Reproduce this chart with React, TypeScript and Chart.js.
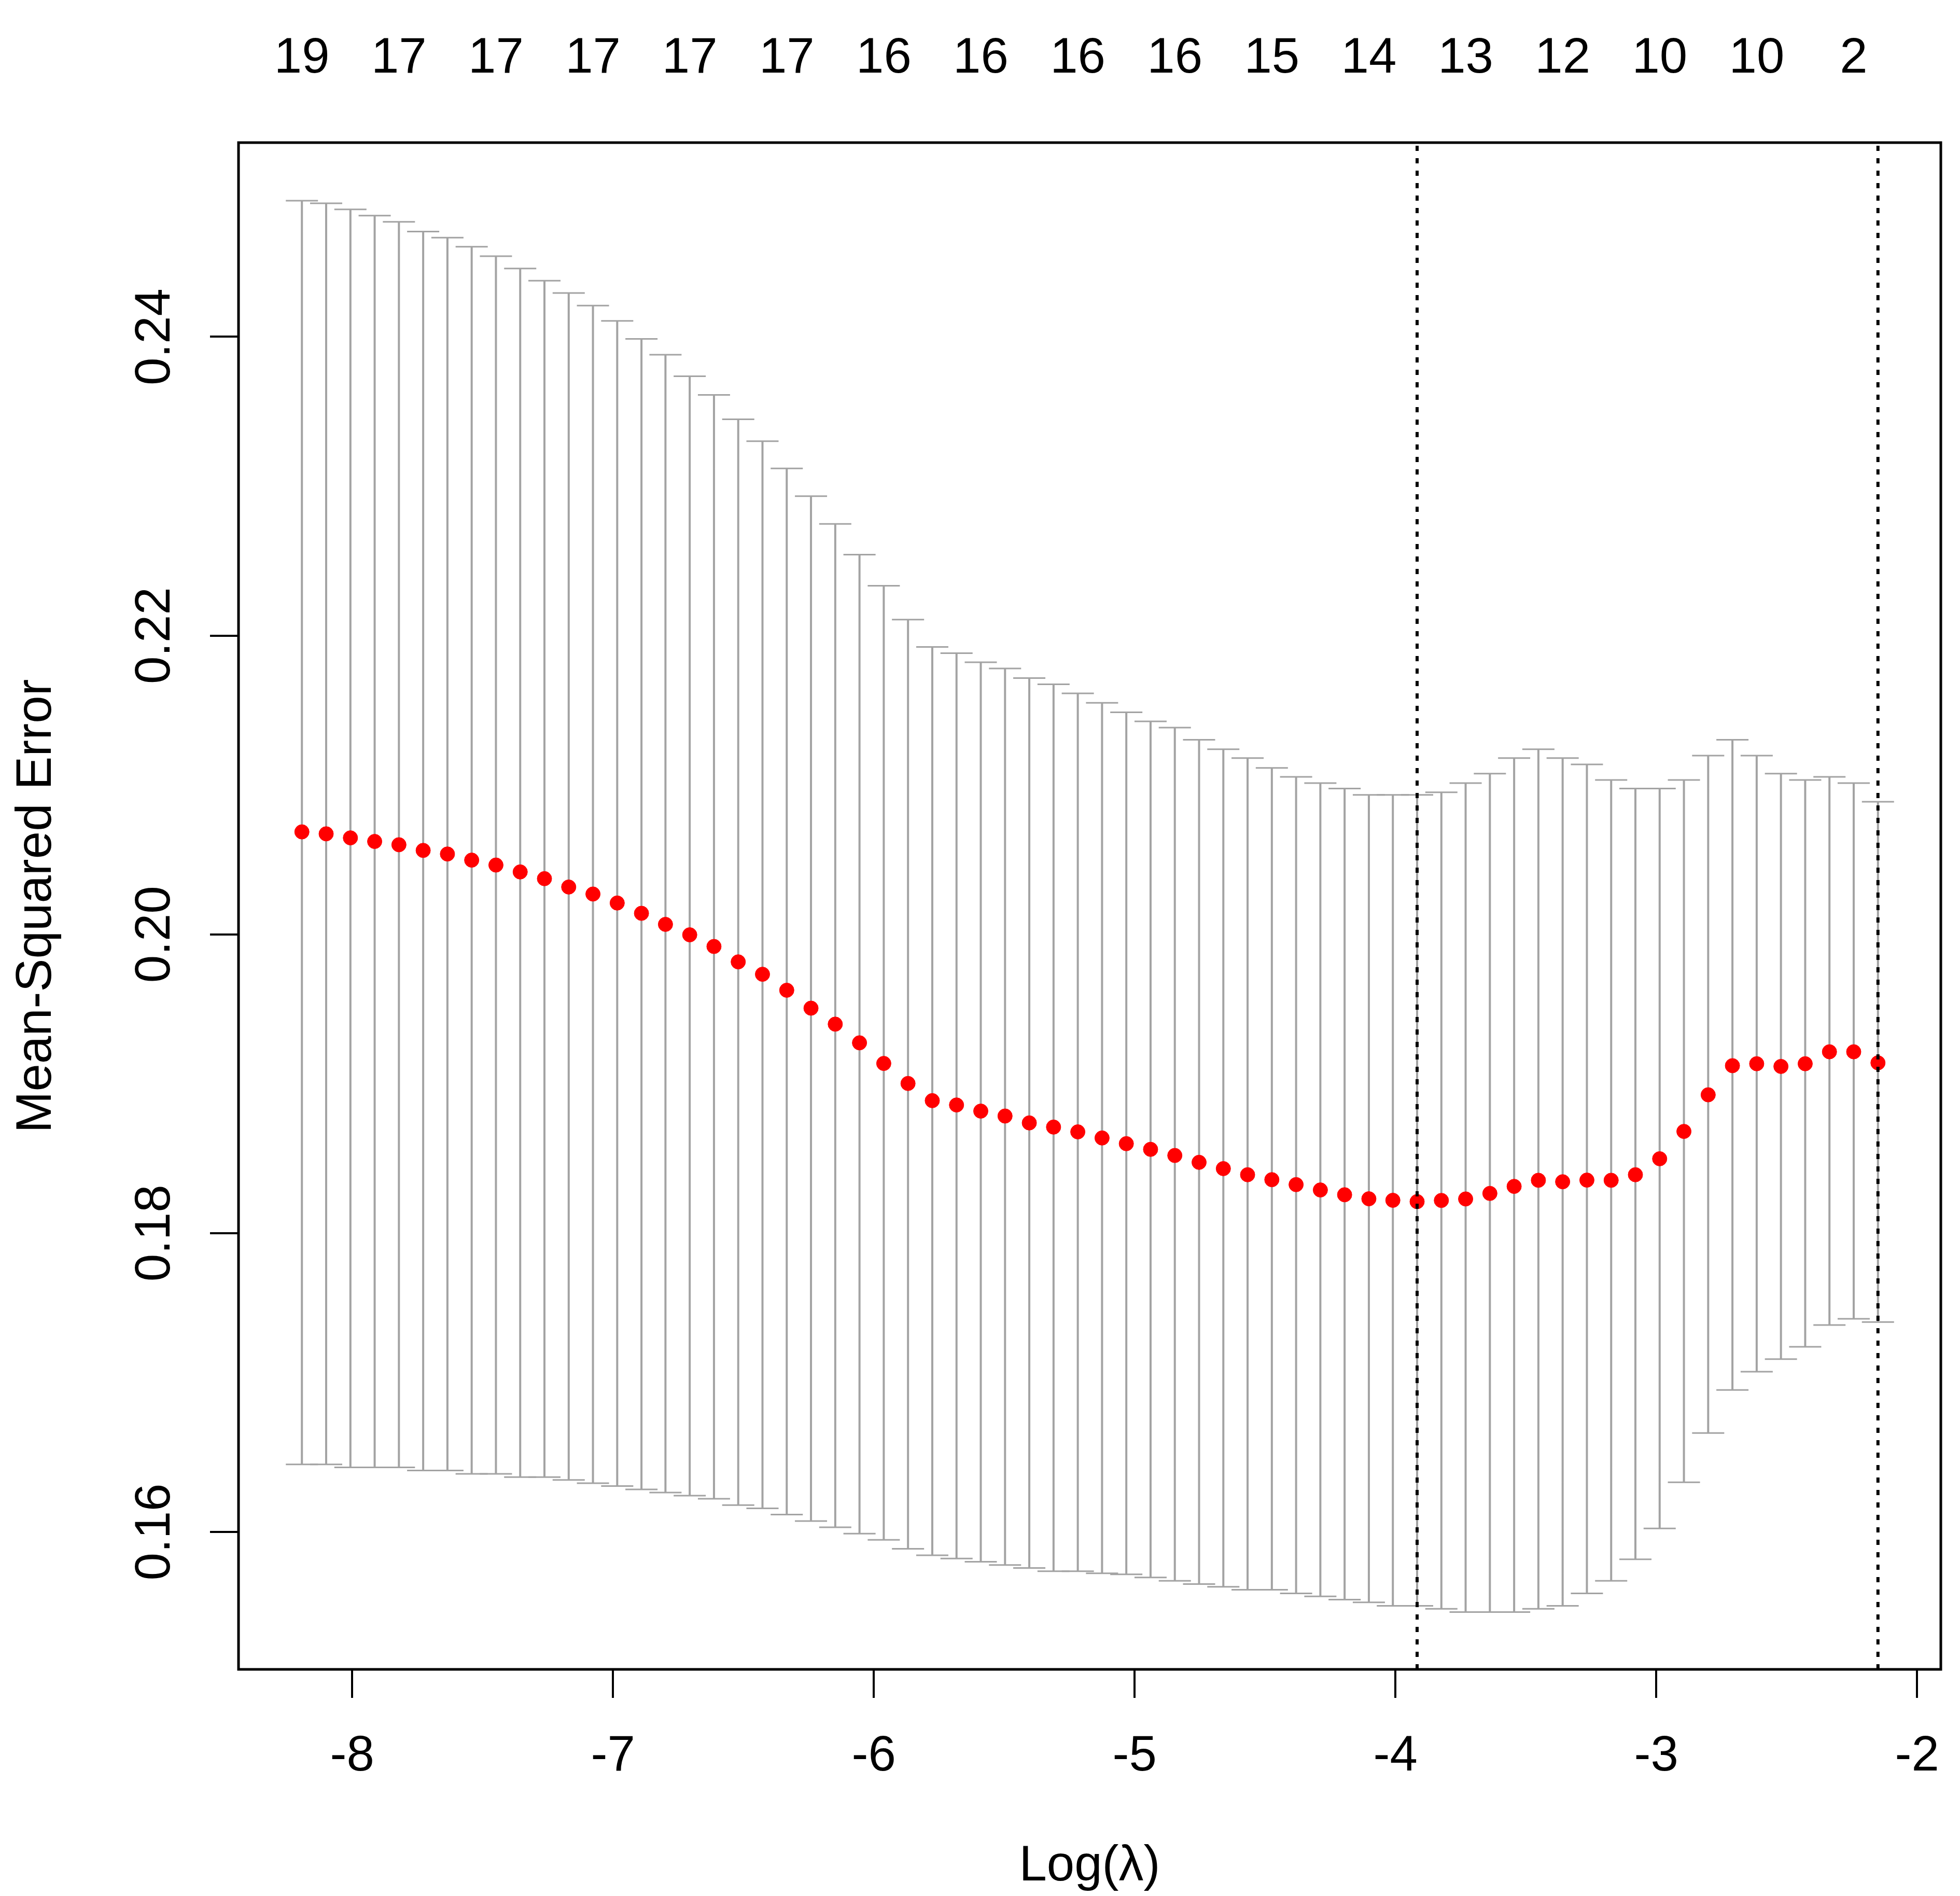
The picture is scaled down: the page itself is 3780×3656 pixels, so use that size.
import { useEffect, useRef } from 'react';
import { Chart, registerables } from 'chart.js';

Chart.register(...registerables);

// page / plot region (R plot box) in canvas pixels
const W = 3780;
const H = 3656;
const PLOT_LEFT = 460;
const PLOT_RIGHT = 3743;
const PLOT_TOP = 275;
const PLOT_BOTTOM = 3219;

const X_MIN = -8.436;
const X_MAX = -1.909;
const Y_MIN = 0.1508;
const Y_MAX = 0.253;

// log(lambda) path of the cross-validated fit
const logLambda = [
  -8.193, -8.1, -8.007, -7.914, -7.821, -7.728, -7.635, -7.542, -7.449, -7.356,
  -7.263, -7.17, -7.077, -6.984, -6.891, -6.799, -6.706, -6.613, -6.52, -6.427,
  -6.334, -6.241, -6.148, -6.055, -5.962, -5.869, -5.776, -5.683, -5.59, -5.497,
  -5.404, -5.311, -5.218, -5.125, -5.032, -4.939, -4.846, -4.753, -4.66, -4.567,
  -4.474, -4.381, -4.288, -4.195, -4.102, -4.01, -3.917, -3.824, -3.731, -3.638,
  -3.545, -3.452, -3.359, -3.266, -3.173, -3.08, -2.987, -2.894, -2.801, -2.708,
  -2.615, -2.522, -2.429, -2.336, -2.243, -2.15,
];

// mean cross-validated error
const cvm = [
  0.20686, 0.20673, 0.20646, 0.20622, 0.206, 0.20562, 0.20538, 0.20497, 0.20464, 0.20418,
  0.20373, 0.20317, 0.2027, 0.2021, 0.20141, 0.20067, 0.19997, 0.19919, 0.19816, 0.19733,
  0.19626, 0.19506, 0.19399, 0.19274, 0.19136, 0.19002, 0.18887, 0.18858, 0.18817, 0.18784,
  0.18738, 0.1871, 0.18678, 0.18637, 0.18599, 0.18561, 0.1852, 0.18474, 0.18432, 0.18391,
  0.18358, 0.18325, 0.18289, 0.18257, 0.1823, 0.1822, 0.18211, 0.18219, 0.18229, 0.18266,
  0.18313, 0.18354, 0.18344, 0.18355, 0.18354, 0.18391, 0.18498, 0.18681, 0.18926, 0.19121,
  0.19134, 0.19116, 0.19134, 0.19214, 0.19214, 0.1914,
];

// upper error bar ends
const cvup = [
  0.24911, 0.24894, 0.24853, 0.24811, 0.2477, 0.24705, 0.24664, 0.24603, 0.2454, 0.24457,
  0.24376, 0.24293, 0.24209, 0.24107, 0.23986, 0.2388, 0.23736, 0.23611, 0.23448, 0.23301,
  0.23119, 0.22933, 0.22748, 0.22542, 0.22334, 0.22107, 0.21924, 0.21882, 0.21822, 0.2178,
  0.21716, 0.21674, 0.21613, 0.2155, 0.21487, 0.21426, 0.21384, 0.21303, 0.21239, 0.2118,
  0.21114, 0.21054, 0.21013, 0.20976, 0.20934, 0.20934, 0.20934, 0.20951, 0.21013, 0.21076,
  0.2118, 0.21239, 0.2118, 0.21138, 0.21034, 0.20976, 0.20976, 0.21034, 0.21197, 0.21303,
  0.21197, 0.21076, 0.21034, 0.21054, 0.21013, 0.20888,
];

// lower error bar ends
const cvlo = [
  0.16452, 0.16452, 0.16432, 0.16432, 0.16432, 0.16411, 0.16411, 0.16389, 0.16389, 0.16367,
  0.16367, 0.16348, 0.16326, 0.16307, 0.16285, 0.16264, 0.16243, 0.16222, 0.1618, 0.16158,
  0.16116, 0.16073, 0.16031, 0.15989, 0.15947, 0.15887, 0.15844, 0.15822, 0.158, 0.15779,
  0.15759, 0.15737, 0.15737, 0.15723, 0.15716, 0.15695, 0.15673, 0.15651, 0.15633, 0.15613,
  0.15613, 0.15589, 0.15569, 0.15547, 0.15529, 0.15505, 0.15505, 0.15485, 0.15464, 0.15464,
  0.15464, 0.15485, 0.15505, 0.15589, 0.15673, 0.15817, 0.16023, 0.16332, 0.16662, 0.1695,
  0.17073, 0.17157, 0.17239, 0.17385, 0.17427, 0.17405,
];

// number of non-zero coefficients shown on the top axis (every 4th lambda)
const nzShown = ['19', '17', '17', '17', '17', '17', '16', '16', '16', '16', '15', '14', '13', '12', '10', '10', '2'];
const NZ_STEP = 4;

const xTicks = [-8, -7, -6, -5, -4, -3, -2];
const yTicks = [0.16, 0.18, 0.2, 0.22, 0.24];
const yTickLabels = ['0.16', '0.18', '0.20', '0.22', '0.24'];

const logLambdaMin = -3.917;
const logLambda1se = -2.15;

const FAMILY = '"Liberation Sans", Arial, Helvetica, sans-serif';
const FONT = { family: FAMILY, size: 96, lineHeight: 1 };
const GREY = '#A3A3A3';

// R-style box around the plot region
const boxPlugin = {
    id: 'plotBox',
    afterDatasetsDraw(chart: any) {
        const { ctx, chartArea: a } = chart;
        ctx.save();
        ctx.strokeStyle = '#000';
        ctx.lineWidth = 5;
        ctx.strokeRect(a.left, a.top, a.right - a.left, a.bottom - a.top);
        ctx.restore();
    },
};

// y tick labels parallel to the axis (las = 0)
const yLabelPlugin = {
    id: 'yRotatedLabels',
    afterDraw(chart: any) {
        const { ctx, scales } = chart;
        ctx.save();
        ctx.fillStyle = '#000';
        ctx.font = `96px ${FAMILY}`;
        ctx.textAlign = 'center';
        ctx.textBaseline = 'alphabetic';
        yTicks.forEach((v, i) => {
            const py = scales.y.getPixelForValue(v);
            ctx.save();
            ctx.translate(327, py);
            ctx.rotate(-Math.PI / 2);
            ctx.fillText(yTickLabels[i], 0, 0);
            ctx.restore();
        });
        ctx.restore();
    },
};

export default function App() {
    const canvasRef = useRef<HTMLCanvasElement | null>(null);

    useEffect(() => {
        document.body.style.margin = '0';
        if (!canvasRef.current) return;

        const chart = new Chart(canvasRef.current, {
            type: 'scatter',
            data: {
                datasets: [
                    {
                        type: 'line',
                        label: 'lambda.min',
                        data: [{ x: logLambdaMin, y: Y_MIN }, { x: logLambdaMin, y: Y_MAX }],
                        borderColor: '#000',
                        borderWidth: 6,
                        borderDash: [10, 14],
                        pointRadius: 0,
                    },
                    {
                        type: 'line',
                        label: 'lambda.1se',
                        data: [{ x: logLambda1se, y: Y_MIN }, { x: logLambda1se, y: Y_MAX }],
                        borderColor: '#000',
                        borderWidth: 6,
                        borderDash: [10, 14],
                        pointRadius: 0,
                    },
                    {
                        type: 'scatter',
                        label: 'cvm',
                        data: logLambda.map((x, i) => ({ x, y: cvm[i] })),
                        pointStyle: 'circle',
                        pointRadius: 14,
                        backgroundColor: '#FF0000',
                        borderColor: '#FF0000',
                        borderWidth: 1,
                    },
                    {
                        type: 'scatter',
                        label: 'cvup',
                        data: logLambda.map((x, i) => ({ x, y: cvup[i] })),
                        pointStyle: 'line',
                        pointRadius: 31,
                        borderColor: GREY,
                        borderWidth: 3,
                    },
                    {
                        type: 'scatter',
                        label: 'cvlo',
                        data: logLambda.map((x, i) => ({ x, y: cvlo[i] })),
                        pointStyle: 'line',
                        pointRadius: 31,
                        borderColor: GREY,
                        borderWidth: 3,
                    },
                    {
                        type: 'line',
                        label: 'bars',
                        data: logLambda.flatMap((x, i) => [
                            { x, y: cvlo[i] },
                            { x, y: cvup[i] },
                            { x, y: null },
                        ]),
                        borderColor: GREY,
                        borderWidth: 4,
                        pointRadius: 0,
                        spanGaps: false,
                    },
                ],
            },
            options: {
                animation: false,
                responsive: true,
                maintainAspectRatio: false,
                events: [],
                layout: { padding: { left: 0, top: 0, right: W - PLOT_RIGHT, bottom: 0 } },
                plugins: {
                    legend: { display: false },
                    tooltip: { enabled: false },
                },
                scales: {
                    x: {
                        type: 'linear',
                        position: 'bottom',
                        min: X_MIN,
                        max: X_MAX,
                        afterBuildTicks: (s: any) => {
                            s.ticks = xTicks.map((v) => ({ value: v }));
                        },
                        afterFit: (s: any) => {
                            s.height = H - PLOT_BOTTOM;
                            s.paddingLeft = 0;
                            s.paddingRight = 0;
                        },
                        ticks: {
                            font: FONT,
                            color: '#000',
                            padding: 66,
                            autoSkip: false,
                            maxRotation: 0,
                            minRotation: 0,
                            callback: (v: any) => String(v),
                        },
                        grid: { drawOnChartArea: false, drawTicks: true, tickLength: 55, color: '#000', lineWidth: 4 },
                        border: { display: false },
                        title: {
                            display: true,
                            text: 'Log(λ)',
                            font: FONT,
                            color: '#000',
                            padding: { top: 0, bottom: 8 },
                        },
                    },
                    xTop: {
                        type: 'linear',
                        axis: 'x',
                        position: 'top',
                        min: X_MIN,
                        max: X_MAX,
                        afterBuildTicks: (s: any) => {
                            s.ticks = nzShown.map((_, k) => ({ value: logLambda[k * NZ_STEP] }));
                        },
                        afterFit: (s: any) => {
                            s.height = PLOT_TOP;
                            s.paddingLeft = 0;
                            s.paddingRight = 0;
                        },
                        ticks: {
                            font: FONT,
                            color: '#000',
                            padding: 105,
                            autoSkip: false,
                            maxRotation: 0,
                            minRotation: 0,
                            callback: (_v: any, i: number) => nzShown[i],
                        },
                        grid: { display: false },
                        border: { display: false },
                    },
                    y: {
                        type: 'linear',
                        position: 'left',
                        min: Y_MIN,
                        max: Y_MAX,
                        afterBuildTicks: (s: any) => {
                            s.ticks = yTicks.map((v) => ({ value: v }));
                        },
                        afterFit: (s: any) => {
                            s.width = PLOT_LEFT;
                            s.paddingTop = 0;
                            s.paddingBottom = 0;
                        },
                        ticks: {
                            font: FONT,
                            color: 'rgba(0,0,0,0)',
                            autoSkip: false,
                            callback: (_v: any, i: number) => yTickLabels[i],
                        },
                        grid: { drawOnChartArea: false, drawTicks: true, tickLength: 55, color: '#000', lineWidth: 4 },
                        border: { display: false },
                        title: {
                            display: true,
                            text: 'Mean-Squared Error',
                            font: FONT,
                            color: '#000',
                            padding: { top: 24, bottom: 0 },
                        },
                    },
                },
            } as any,
            plugins: [boxPlugin, yLabelPlugin],
        });

        return () => {
            chart.destroy();
        };
    }, []);

    return (
        <div style={{ width: W, height: H, position: 'relative', background: '#fff' }}>
            <canvas ref={canvasRef} />
        </div>
    );
}
